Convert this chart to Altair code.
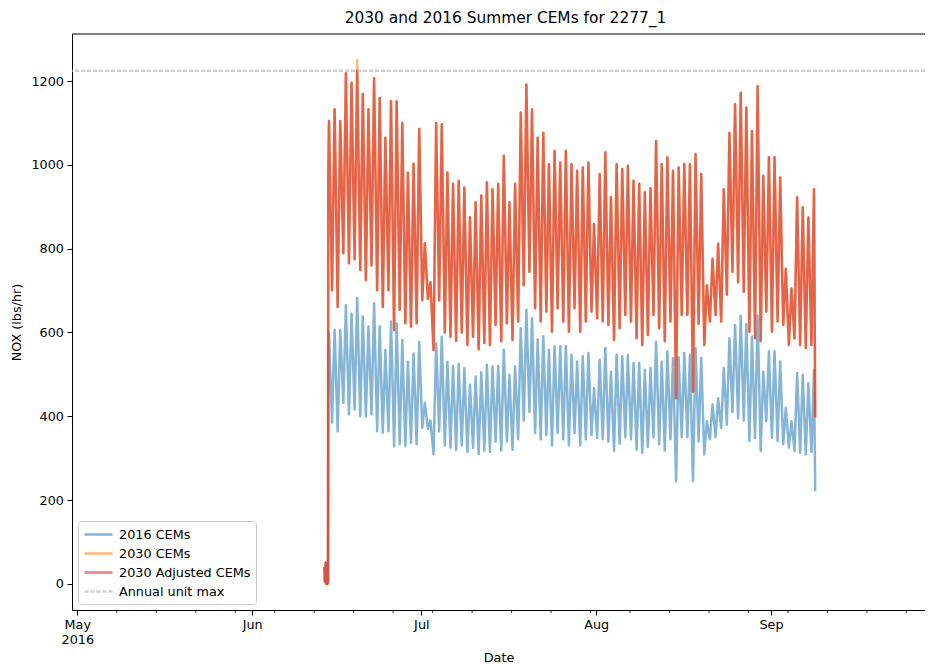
import altair as alt
import pandas as pd

# ---------------- data ----------------
series_names = ["2016 CEMs", "2030 CEMs", "2030 Adjusted CEMs", "Annual unit max"]
series_colors = ["#1f77b4", "#ff7f0e", "#d62728", "#b0b0b0"]

first_day = "2016-06-14"          # day 0 of the daily arrays
peak_hour = 15                    # daily afternoon peak
trough_hour = 4                   # daily early-morning trough

# unit start-up before the first ramp
startup_times = ["2016-06-13T20:00", "2016-06-13T22:00", "2016-06-14T01:00",
                 "2016-06-14T03:00", "2016-06-14T06:00", "2016-06-14T09:00",
                 "2016-06-14T11:00", "2016-06-14T12:00"]
startup_2016 = [40, 5, 50, 0, 30, 0, 5, 530]
startup_2030 = [40, 5, 50, 0, 30, 0, 5, 975]

# daily peaks, Jun 14 .. Sep 8 (87 days)
peaks_2016 = [599, 606, 606, 665, 645, 682, 638, 614, 670, 615,
              558, 626, 622, 582, 530, 550, 578, 432, 390, 574,
              590, 530, 520, 525, 515, 475, 495, 505, 523, 519,
              520, 559, 499, 519, 610, 654, 634, 583, 591, 559,
              567, 567, 567, 547, 531, 543, 551, 467, 535, 563,
              507, 547, 543, 547, 527, 527, 511, 515, 578, 531,
              555, 539, 540, 551, 547, 563, 539, 388, 428, 443,
              515, 586, 618, 640, 620, 590, 640, 507, 555, 555,
              531, 420, 388, 503, 499, 479, 510]
peaks_2030 = [1105, 1133, 1105, 1219, 1196, 1250, 1169, 1133, 1207, 1160,
              1065, 1152, 1152, 1100, 981, 1003, 1086, 813, 720, 1100,
              1097, 982, 955, 962, 946, 875, 911, 927, 958, 942,
              955, 1022, 911, 955, 1125, 1192, 1133, 1065, 1077, 1002,
              1034, 1006, 1034, 1002, 986, 994, 1006, 859, 978, 1030,
              923, 1002, 990, 998, 962, 955, 935, 944, 1057, 1002,
              1018, 986, 994, 1002, 1002, 1026, 978, 713, 776, 812,
              942, 1077, 1145, 1172, 1137, 1081, 1188, 974, 1018, 1018,
              970, 752, 705, 923, 899, 875, 942]
peaks_adj = [1105, 1133, 1105, 1219, 1196, 1225, 1169, 1133, 1207, 1160,
             1065, 1152, 1152, 1100, 981, 1003, 1086, 813, 720, 1100,
             1097, 982, 955, 962, 946, 875, 911, 927, 958, 942,
             955, 1022, 911, 955, 1125, 1192, 1133, 1065, 1077, 1002,
             1034, 1006, 1034, 1002, 986, 994, 1006, 859, 978, 1030,
             923, 1002, 990, 998, 962, 955, 935, 944, 1057, 1002,
             1018, 986, 994, 1002, 1002, 1026, 978, 713, 776, 812,
             942, 1077, 1145, 1172, 1137, 1081, 1188, 974, 1018, 1018,
             970, 752, 705, 923, 899, 875, 942]

# daily troughs, Jun 15 .. Sep 8 (86 days)
troughs_2016 = [385, 364, 432, 404, 416, 400, 400, 404, 364, 361,
                364, 328, 333, 329, 337, 333, 372, 370, 309, 364,
                330, 325, 320, 330, 315, 325, 310, 318, 315, 340,
                318, 340, 320, 345, 390, 410, 360, 345, 355, 330,
                360, 345, 330, 360, 330, 345, 355, 348, 345, 340,
                317, 335, 350, 345, 320, 313, 327, 350, 333, 318,
                345, 245, 350, 350, 245, 340, 309, 345, 350, 372,
                380, 410, 395, 390, 341, 348, 317, 388, 348, 341,
                333, 325, 317, 313, 309, 315]
troughs_2030 = [701, 661, 789, 765, 775, 749, 725, 760, 701, 661,
                701, 606, 654, 622, 614, 622, 677, 680, 558, 677,
                600, 590, 580, 600, 570, 590, 560, 575, 570, 618,
                579, 622, 582, 626, 713, 745, 658, 626, 650, 602,
                658, 626, 602, 658, 602, 626, 650, 634, 626, 618,
                582, 610, 642, 626, 586, 570, 594, 642, 610, 579,
                626, 443, 642, 642, 459, 620, 570, 626, 642, 626,
                690, 745, 720, 697, 602, 586, 579, 650, 602, 626,
                618, 570, 586, 570, 563, 570]

end_time = "2016-09-08T20:00"
end_2016 = 221
end_2030 = 397

annual_unit_max = 1225

month_ticks = ["2016-05-01", "2016-06-01", "2016-07-01", "2016-08-01", "2016-09-01"]
week_ticks = ["2016-05-08", "2016-05-15", "2016-05-22", "2016-05-29", "2016-06-05",
              "2016-06-12", "2016-06-19", "2016-06-26", "2016-07-03", "2016-07-10",
              "2016-07-17", "2016-07-24", "2016-07-31", "2016-08-07", "2016-08-14",
              "2016-08-21", "2016-08-28", "2016-09-04", "2016-09-11", "2016-09-18",
              "2016-09-25"]
y_ticks = [0, 200, 400, 600, 800, 1000, 1200]


# ---------------- build tables ----------------
def series_frame(name, startup_vals, peaks, troughs, end_val):
    day0 = pd.Timestamp(first_day)
    times = [pd.Timestamp(t) for t in startup_times]
    vals = list(startup_vals)
    for d, p in enumerate(peaks):
        times.append(day0 + pd.Timedelta(days=d, hours=peak_hour))
        vals.append(p)
        if d < len(troughs):
            times.append(day0 + pd.Timedelta(days=d + 1, hours=trough_hour))
            vals.append(troughs[d])
    times.append(pd.Timestamp(end_time))
    vals.append(end_val)
    return pd.DataFrame({
        "t": [t.strftime("%Y-%m-%dT%H:%M:%S") for t in times],
        "v": vals,
        "series": name,
    })


df16 = series_frame(series_names[0], startup_2016, peaks_2016, troughs_2016, end_2016)
df30 = series_frame(series_names[1], startup_2030, peaks_2030, troughs_2030, end_2030)
dfadj = series_frame(series_names[2], startup_2030, peaks_adj, troughs_2030, end_2030)
dfmax = pd.DataFrame({"v": [annual_unit_max], "series": [series_names[3]]})
dfweek = pd.DataFrame({"t": week_ticks})

FONT = "DejaVu Sans"
PLOT_W = 853
PLOT_H = 576

x_scale = alt.Scale(domain=[alt.DateTime(year=2016, month=4, date=30, hours=1, minutes=30),
                            alt.DateTime(year=2016, month=9, date=28, hours=7, minutes=15)])
x_axis = alt.Axis(
    title="Date", values=[alt.DateTime(year=2016, month=int(m[5:7]), date=1) for m in month_ticks],
    labelExpr="month(datum.value) == 4 ? ['May', '2016'] : timeFormat(datum.value, '%b')",
    grid=False, tickSize=5, labelPadding=3, labelLineHeight=15, labelAlign="center",
    titleY=51, titleBaseline="alphabetic",
)
y_scale = alt.Scale(domain=[-62.5, 1312.5], nice=False, zero=False)
y_axis = alt.Axis(title="NOX (lbs/hr)", values=y_ticks, format="d", grid=False, tickSize=5,
                  labelPadding=3.5, titlePadding=7)

color_scale = alt.Scale(domain=series_names, range=series_colors)
dash_scale = alt.Scale(domain=series_names, range=[[1, 0], [1, 0], [1, 0], [4, 2]])
width_scale = alt.Scale(domain=series_names, range=[2.5, 2.5, 2.5, 1])
opac_scale = alt.Scale(domain=series_names, range=[0.55, 0.6, 0.6, 0.75])

legend = alt.Legend(title=None, orient="bottom-left", offset=6, padding=5,
                    strokeColor="#cccccc", fillColor="white", cornerRadius=3,
                    symbolType="M-1,0H3", symbolSize=196, labelFontSize=12.8,
                    labelFont=FONT, labelColor="black", rowPadding=3, labelOffset=19)


def enc_common():
    return dict(
        color=alt.Color("series:N", scale=color_scale, legend=legend),
        strokeDash=alt.StrokeDash("series:N", scale=dash_scale, legend=legend),
        strokeWidth=alt.StrokeWidth("series:N", scale=width_scale, legend=legend),
        opacity=alt.Opacity("series:N", scale=opac_scale, legend=legend),
    )


def line_layer(df):
    return alt.Chart(df).mark_line(strokeJoin="round").encode(
        x=alt.X("t:T", scale=x_scale, axis=x_axis),
        y=alt.Y("v:Q", scale=y_scale, axis=y_axis),
        order=alt.Order("t:T"),
        **enc_common(),
    )


max_rule = alt.Chart(dfmax).mark_rule().encode(
    y=alt.Y("v:Q", scale=y_scale, axis=y_axis),
    **enc_common(),
)

minor_ticks = alt.Chart(dfweek).mark_rule(color="black", strokeWidth=0.8).encode(
    x=alt.X("t:T", scale=x_scale, axis=x_axis),
    y=alt.value(PLOT_H),
    y2=alt.value(PLOT_H + 3),
)

top_spine = alt.Chart(dfmax).mark_rule(color="black", strokeWidth=1).encode(
    x=alt.value(0), x2=alt.value(PLOT_W), y=alt.value(0),
)

chart = alt.layer(
    line_layer(df16), line_layer(df30), line_layer(dfadj), max_rule, minor_ticks, top_spine
).properties(
    width=PLOT_W, height=PLOT_H,
    title=alt.TitleParams("2030 and 2016 Summer CEMs for 2277_1", font=FONT, fontSize=15.4,
                          fontWeight="normal", color="black", anchor="middle", dx=7, offset=7),
    autosize=alt.AutoSizeParams(type="none"),
    padding={"left": 64, "top": 26, "right": 0, "bottom": 54},
).configure_view(stroke=None).configure_axis(
    labelFont=FONT, titleFont=FONT, labelFontSize=12.8, titleFontSize=12.8,
    labelColor="black", titleColor="black", titleFontWeight="normal",
    domainColor="black", tickColor="black", domainWidth=1, tickWidth=1,
)

chart.save("out.html", embed_options={"renderer": "svg", "actions": False})
